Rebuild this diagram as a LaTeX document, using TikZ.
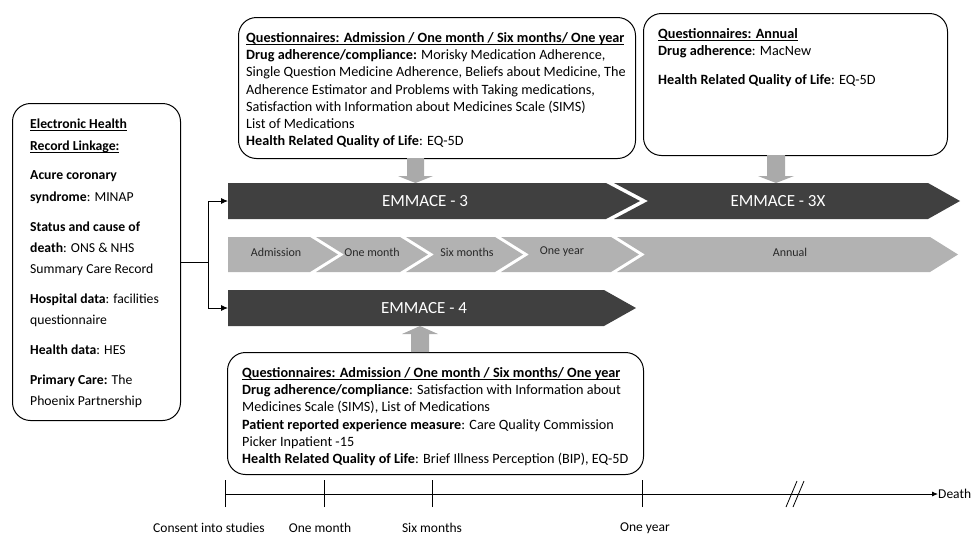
\documentclass[tikz,border=0pt]{standalone}
\usepackage{fontspec}
\setmainfont{Carlito}
\usetikzlibrary{arrows.meta}
\newcommand{\hul}[1]{\setbox0\hbox{#1}\rlap{\rule[-2.2pt]{\wd0}{0.8pt}}\box0}
\definecolor{darkbar}{RGB}{64,64,64}
\definecolor{lightbar}{RGB}{178,178,178}
\definecolor{blockarr}{RGB}{170,170,170}
\definecolor{segtext}{RGB}{40,40,40}
\tikzset{
  qbox/.style={draw=black, line width=1pt, rounded corners=18pt, inner sep=0pt, anchor=north west},
  txt/.style={inner sep=0pt, align=left, anchor=north west, font=\fontsize{14.2}{17.3}\selectfont},
  ltxt/.style={inner sep=0pt, align=left, anchor=north west, font=\fontsize{13.7}{21.3}\selectfont},
  barlabel/.style={text=white, inner sep=0pt, font=\fontsize{17}{20}\selectfont},
  seglabel/.style={text=segtext, inner sep=0pt, font=\fontsize{12}{14}\selectfont},
  tllabel/.style={inner sep=0pt, font=\fontsize{13.5}{15}\selectfont},
  conn/.style={line width=0.9pt, -{Latex[length=7pt,width=6pt]}},
  tlline/.style={line width=0.8pt},
}
\begin{document}
\begin{tikzpicture}[x=1pt,y=-1pt]
\useasboundingbox (0,0) rectangle (971,536);

% ---------- boxes ----------
\node[qbox, minimum width=168, minimum height=317] (ehr) at (12,103) {};
\node[ltxt] (ehrt) at (30,119) {%
\hul{\textbf{Electronic Health}}\\
\hul{\textbf{Record Linkage:}}\\[8.5pt]
\textbf{Acure coronary}\\
\textbf{syndrome}: MINAP\\[8.5pt]
\textbf{Status and cause of}\\
\textbf{death}: ONS \& NHS\\
Summary Care Record\\[8.5pt]
\textbf{Hospital data}: facilities\\
questionnaire\\[8.5pt]
\textbf{Health data}: HES\\[8.5pt]
\textbf{Primary Care:} The\\
Phoenix Partnership};

\node[qbox, minimum width=397, minimum height=141] (qtop) at (238,17) {};
\node[txt] (qtopt) at (246,32) {%
\hul{\textbf{Questionnaires: Admission / One month / Six months/ One year}}\\
\textbf{Drug adherence/compliance:} Morisky Medication Adherence,\\
Single Question Medicine Adherence, Beliefs about Medicine, The\\
Adherence Estimator and Problems with Taking medications,\\
Satisfaction with Information about Medicines Scale (SIMS)\\
List of Medications\\
\textbf{Health Related Quality of Life}: EQ-5D};

\node[qbox, minimum width=304, minimum height=142] (qann) at (643,13) {};
\node[txt] (qannt) at (658,28) {%
\hul{\textbf{Questionnaires: Annual}}\\
\textbf{Drug adherence}: MacNew\\[12pt]
\textbf{Health Related Quality of Life}: EQ-5D};

\node[qbox, minimum width=416, minimum height=122] (qbot) at (227,352) {};
\node[txt] (qbott) at (242,367) {%
\hul{\textbf{Questionnaires: Admission / One month / Six months/ One year}}\\
\textbf{Drug adherence/compliance}: Satisfaction with Information about\\
Medicines Scale (SIMS), List of Medications\\
\textbf{Patient reported experience measure}: Care Quality Commission\\
Picker Inpatient -15\\
\textbf{Health Related Quality of Life}: Brief Illness Perception (BIP), EQ-5D};

% ---------- dark study bars ----------
\fill[darkbar] (228,183) -- (606,183) -- (640,201) -- (606,219) -- (228,219) -- cycle;
\fill[darkbar] (614,183) -- (928,183) -- (960,201) -- (928,219) -- (614,219) -- (648,201) -- cycle;
\fill[darkbar] (228,290) -- (604,290) -- (636,308) -- (604,326) -- (228,326) -- cycle;
\node[barlabel] (e3) at (425,201) {EMMACE - 3};
\node[barlabel] (e3x) at (778,201) {EMMACE - 3X};
\node[barlabel] (e4) at (424,308) {EMMACE - 4};

% ---------- grey phase row ----------
\fill[lightbar] (228,237) -- (310,237) -- (338,254.5) -- (310,272) -- (228,272) -- cycle;
\fill[lightbar] (316,237) -- (400,237) -- (428,254.5) -- (400,272) -- (316,272) -- (344,254.5) -- cycle;
\fill[lightbar] (406,237) -- (495,237) -- (523,254.5) -- (495,272) -- (406,272) -- (434,254.5) -- cycle;
\fill[lightbar] (501,237) -- (611,237) -- (639,254.5) -- (611,272) -- (501,272) -- (529,254.5) -- cycle;
\fill[lightbar] (617,237) -- (930,237) -- (958,254.5) -- (930,272) -- (617,272) -- (645,254.5) -- cycle;
\node[seglabel] (padm) at (276,252) {Admission};
\node[seglabel] (pmon) at (372,252) {One month};
\node[seglabel] (psix) at (467,252) {Six months};
\node[seglabel] (pyear) at (562,252) {One year};
\node[seglabel] (pann) at (790,252) {Annual};

% ---------- block arrows ----------
\fill[blockarr] (407,158) -- (424,158) -- (424,176) -- (433,176) -- (415.5,183) -- (398,176) -- (407,176) -- cycle;
\fill[blockarr] (767,155) -- (785,155) -- (785,176) -- (794,176) -- (776,183) -- (758,176) -- (767,176) -- cycle;
\fill[blockarr] (411,352) -- (429,352) -- (429,334) -- (438,334) -- (420,326) -- (402,334) -- (411,334) -- cycle;

% ---------- connector ----------
\coordinate (e3w) at (228,201);
\coordinate (e4w) at (228,308);
\path (ehr.east) ++(27,0) coordinate (br);
\draw[line width=0.9pt] (ehr.east) -- (br);
\draw[conn] (br) |- (e3w);
\draw[conn] (br) |- (e4w);

% ---------- timeline ----------
\coordinate (t0) at (225,494);
\coordinate (t1) at (324,494);
\coordinate (t2) at (432,494);
\coordinate (t3) at (642,494);
\node[tllabel, anchor=west] (death) at (938,494) {Death};
\draw[tlline, -{Latex[length=6pt,width=5pt]}] (t0) -- (death.west);
\foreach \t in {t0,t1,t2,t3} \draw[tlline] ([yshift=-13]\t) -- ([yshift=14]\t);
\draw[tlline] (786,507) -- (797,481);
\draw[tlline] (793,507) -- (804,481);
\node[tllabel] (lcon) at (209,528) {Consent into studies};
\node[tllabel] (lmon) at (320,528) {One month};
\node[tllabel] (lsix) at (432,528) {Six months};
\node[tllabel] (lyear) at (645,528) {One year};
\end{tikzpicture}
\end{document}
